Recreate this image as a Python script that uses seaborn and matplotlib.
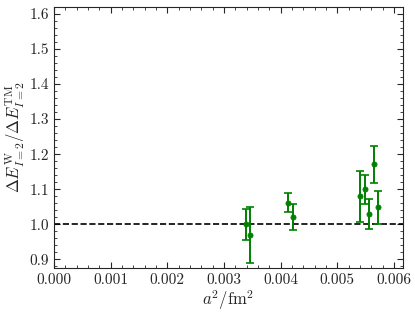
import matplotlib
matplotlib.use("Agg")
import matplotlib.pyplot as plt
import seaborn as sns
import pandas as pd
from matplotlib.ticker import MultipleLocator

a2 = [0.003393, 0.003469, 0.004130, 0.004218, 0.005410, 0.005487, 0.005563, 0.005646, 0.005722]
ratio = [1.000, 0.969, 1.062, 1.021, 1.080, 1.100, 1.029, 1.171, 1.048]
err = [0.045, 0.080, 0.026, 0.036, 0.073, 0.041, 0.043, 0.052, 0.046]
ref_value = 1.0

sns.set_style("ticks")
plt.rcParams['font.family'] = ['serif']
plt.rcParams['font.serif'] = ['cmr10', 'DejaVu Serif']
plt.rcParams['mathtext.fontset'] = 'cm'
plt.rcParams['axes.formatter.use_mathtext'] = True

df = pd.DataFrame({"a2": a2, "ratio": ratio, "err": err})

fig = plt.figure(figsize=(4.15, 3.14), dpi=100)
ax = fig.add_axes([0.130, 0.146, 0.841, 0.832])

ax.errorbar(df["a2"], df["ratio"], yerr=df["err"], fmt="none", ecolor="green",
            elinewidth=1.4, capsize=3, capthick=1.2, zorder=2)
sns.scatterplot(data=df, x="a2", y="ratio", ax=ax, color="green", s=14,
                edgecolor="green", linewidth=0.5, zorder=3)
ax.axhline(ref_value, color="black", linestyle="--", linewidth=1.2, zorder=1)

ax.set_xlim(0, 0.00616)
ax.set_ylim(0.875, 1.62)
ax.xaxis.set_major_locator(MultipleLocator(0.001))
ax.xaxis.set_minor_locator(MultipleLocator(0.0002))
ax.yaxis.set_major_locator(MultipleLocator(0.1))
ax.yaxis.set_minor_locator(MultipleLocator(0.02))
ax.xaxis.set_major_formatter(matplotlib.ticker.FormatStrFormatter('%.3f'))
ax.yaxis.set_major_formatter(matplotlib.ticker.FormatStrFormatter('%.1f'))
ax.tick_params(which="both", direction="in", top=True, right=True, labelsize=11)
ax.tick_params(which="major", length=4, width=0.8)
ax.tick_params(which="minor", length=2, width=0.6)
for s in ax.spines.values():
    s.set_linewidth(0.8)

ax.set_xlabel(r"$a^2/\mathrm{fm}^2$", fontsize=12, labelpad=1)
ax.set_ylabel(r"$\Delta E^{\mathrm{W}}_{I=2}/\Delta E^{\mathrm{TM}}_{I=2}$", fontsize=12, labelpad=2)

fig.savefig("out.png", dpi=100)
